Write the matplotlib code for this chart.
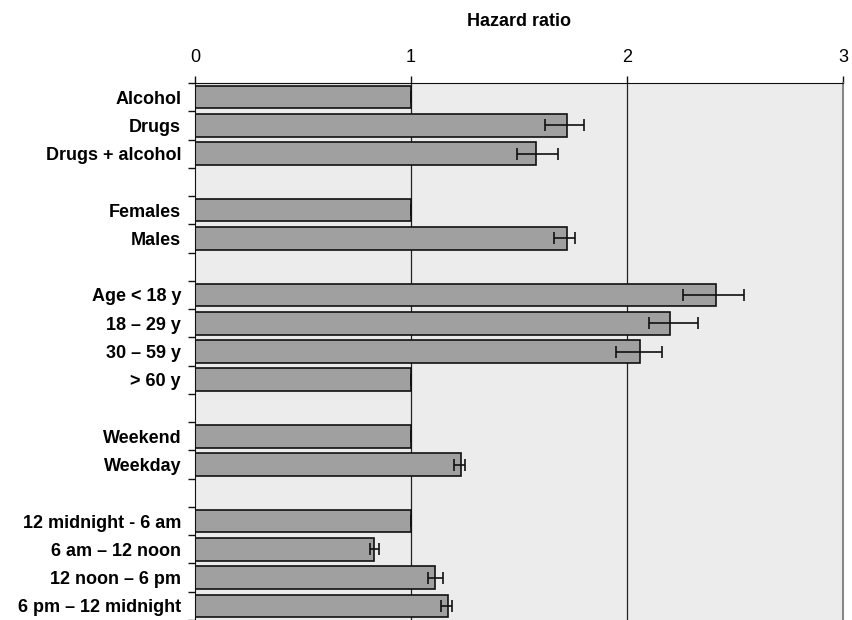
import matplotlib
matplotlib.use("Agg")
import matplotlib.pyplot as plt
import numpy as np

plt.rcParams['font.family'] = ['Liberation Sans', 'DejaVu Sans']

# Rows from top to bottom; empty strings are spacer rows between groups
labels = ["Alcohol", "Drugs", "Drugs + alcohol", "",
          "Females", "Males", "",
          "Age < 18 y", "18 \u2013 29 y", "30 \u2013 59 y", "> 60 y", "",
          "Weekend", "Weekday", "",
          "12 midnight - 6 am", "6 am \u2013 12 noon", "12 noon \u2013 6 pm", "6 pm \u2013 12 midnight"]
hazard = [1.00, 1.72, 1.58, None,
          1.00, 1.72, None,
          2.41, 2.20, 2.06, 1.00, None,
          1.00, 1.23, None,
          1.00, 0.83, 1.11, 1.17]
ci_low = [1.00, 1.62, 1.49, None,
          1.00, 1.66, None,
          2.26, 2.10, 1.95, 1.00, None,
          1.00, 1.20, None,
          1.00, 0.81, 1.08, 1.14]
ci_high = [1.00, 1.80, 1.68, None,
           1.00, 1.76, None,
           2.54, 2.33, 2.16, 1.00, None,
           1.00, 1.25, None,
           1.00, 0.85, 1.15, 1.19]
x_ticks = [0, 1, 2, 3]

fig = plt.figure(figsize=(8.52, 6.2), dpi=100)
ax = fig.add_axes([195 / 852, 0.0, 648 / 852, 1 - 83 / 620])
ax.set_facecolor('#ececec')

n = len(labels)
ypos = np.arange(n)
idx = [i for i, v in enumerate(hazard) if v is not None]
vals = np.array([hazard[i] for i in idx])
lo = np.array([ci_low[i] for i in idx])
hi = np.array([ci_high[i] for i in idx])

for xv in [1, 2]:
    ax.axvline(xv, color='#222222', lw=0.9, zorder=1)

ax.barh(ypos[idx], vals, height=0.8, color='#a0a0a0', edgecolor='#111111',
        linewidth=1.2, zorder=2)
ax.errorbar(vals, ypos[idx], xerr=[vals - lo, hi - vals], fmt='none',
            ecolor='#111111', elinewidth=1.2, capsize=4, capthick=1.2, zorder=3)

ax.set_xlim(0, 3)
ax.set_ylim(n - 0.5, -0.5)

ax.xaxis.tick_top()
ax.xaxis.set_label_position('top')
ax.set_xticks(x_ticks)
ax.set_xticklabels([str(t) for t in x_ticks], fontsize=13)
ax.tick_params(axis='x', length=5, width=1, color='#111111', pad=7)
ax.set_xlabel('Hazard ratio', fontsize=13, fontweight='bold', labelpad=17)

ax.set_yticks(ypos)
ax.set_yticklabels(labels, fontsize=13, fontweight='bold')
ax.tick_params(axis='y', which='major', length=0, pad=10)
ax.set_yticks(np.arange(n + 1) - 0.5, minor=True)
ax.tick_params(axis='y', which='minor', length=5, width=1, color='#111111')

ax.spines['top'].set_color('#111111')
ax.spines['left'].set_color('#111111')
ax.spines['bottom'].set_visible(False)
ax.spines['right'].set_color('#888888')
ax.spines['right'].set_linewidth(1.5)

fig.savefig('out.png', dpi=100)
